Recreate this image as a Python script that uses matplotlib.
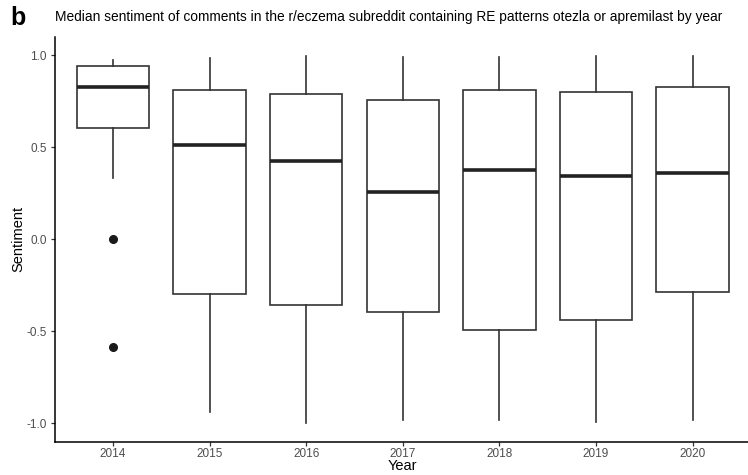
import numpy as np
import matplotlib
matplotlib.use("Agg")
from matplotlib import pyplot as plt

plt.rcParams['font.family'] = ['Liberation Sans', 'DejaVu Sans']
plt.rcParams['axes.unicode_minus'] = False

# box stats
years = ['2014', '2015', '2016', '2017', '2018', '2019', '2020']
whisk_hi = [0.975, 0.986, 0.998, 0.991, 0.991, 0.998, 0.998]
q3 = [0.94, 0.81, 0.792, 0.758, 0.814, 0.799, 0.828]
med = [0.83, 0.511, 0.428, 0.258, 0.375, 0.342, 0.362]
q1 = [0.605, -0.296, -0.357, -0.397, -0.495, -0.44, -0.286]
whisk_lo = [0.333, -0.938, -0.998, -0.984, -0.98, -0.995, -0.984]
outliers = [[0.0, -0.583], [], [], [], [], [], []]

stats = []
for i, y in enumerate(years):
    stats.append(dict(label=y, whishi=whisk_hi[i], q3=q3[i], med=med[i],
                      q1=q1[i], whislo=whisk_lo[i], fliers=outliers[i]))

fig = plt.figure(figsize=(7.48, 4.75), dpi=100)
ax = fig.add_axes([55 / 748, 33.3 / 475, 695.5 / 748, 404.7 / 475])

box_col = '#333333'
ax.bxp(stats, positions=np.arange(1, len(years) + 1), widths=0.75,
       showcaps=False, patch_artist=True,
       boxprops=dict(facecolor='white', edgecolor=box_col, linewidth=1.2),
       whiskerprops=dict(color=box_col, linewidth=1.2),
       medianprops=dict(color='#222222', linewidth=2.6, solid_capstyle='butt'),
       flierprops=dict(marker='o', markerfacecolor='#1a1a1a', markeredgecolor='#1a1a1a',
                       markersize=5.5))

ax.set_xlim(0.4, 7.6)
ax.set_ylim(-1.1, 1.1)
ax.set_yticks([-1.0, -0.5, 0.0, 0.5, 1.0])
ax.set_yticklabels(['-1.0', '-0.5', '0.0', '0.5', '1.0'])

for s in ['top', 'right']:
    ax.spines[s].set_visible(False)
for s in ['left', 'bottom']:
    ax.spines[s].set_linewidth(1.1)
    ax.spines[s].set_color('black')

ax.tick_params(axis='both', direction='out', length=3, width=0.9, color='#333333',
               labelsize=8.5, labelcolor='#4d4d4d', pad=3)
ax.tick_params(axis='x', pad=1.5)
ax.set_xlabel('Year', fontsize=10.5)
ax.set_ylabel('Sentiment', fontsize=10.5)
ax.xaxis.set_label_coords(0.5, -0.043)
ax.yaxis.set_label_coords(-0.043, 0.5)

fig.text(10 / 748, 1 - 18 / 475, 'b', fontsize=18, fontweight='bold', va='center', ha='left')
fig.text(55 / 748, 1 - 17 / 475,
         'Median sentiment of comments in the r/eczema subreddit containing RE patterns otezla or apremilast by year',
         fontsize=9.9, va='center', ha='left')

plt.savefig('out.png', dpi=100)
